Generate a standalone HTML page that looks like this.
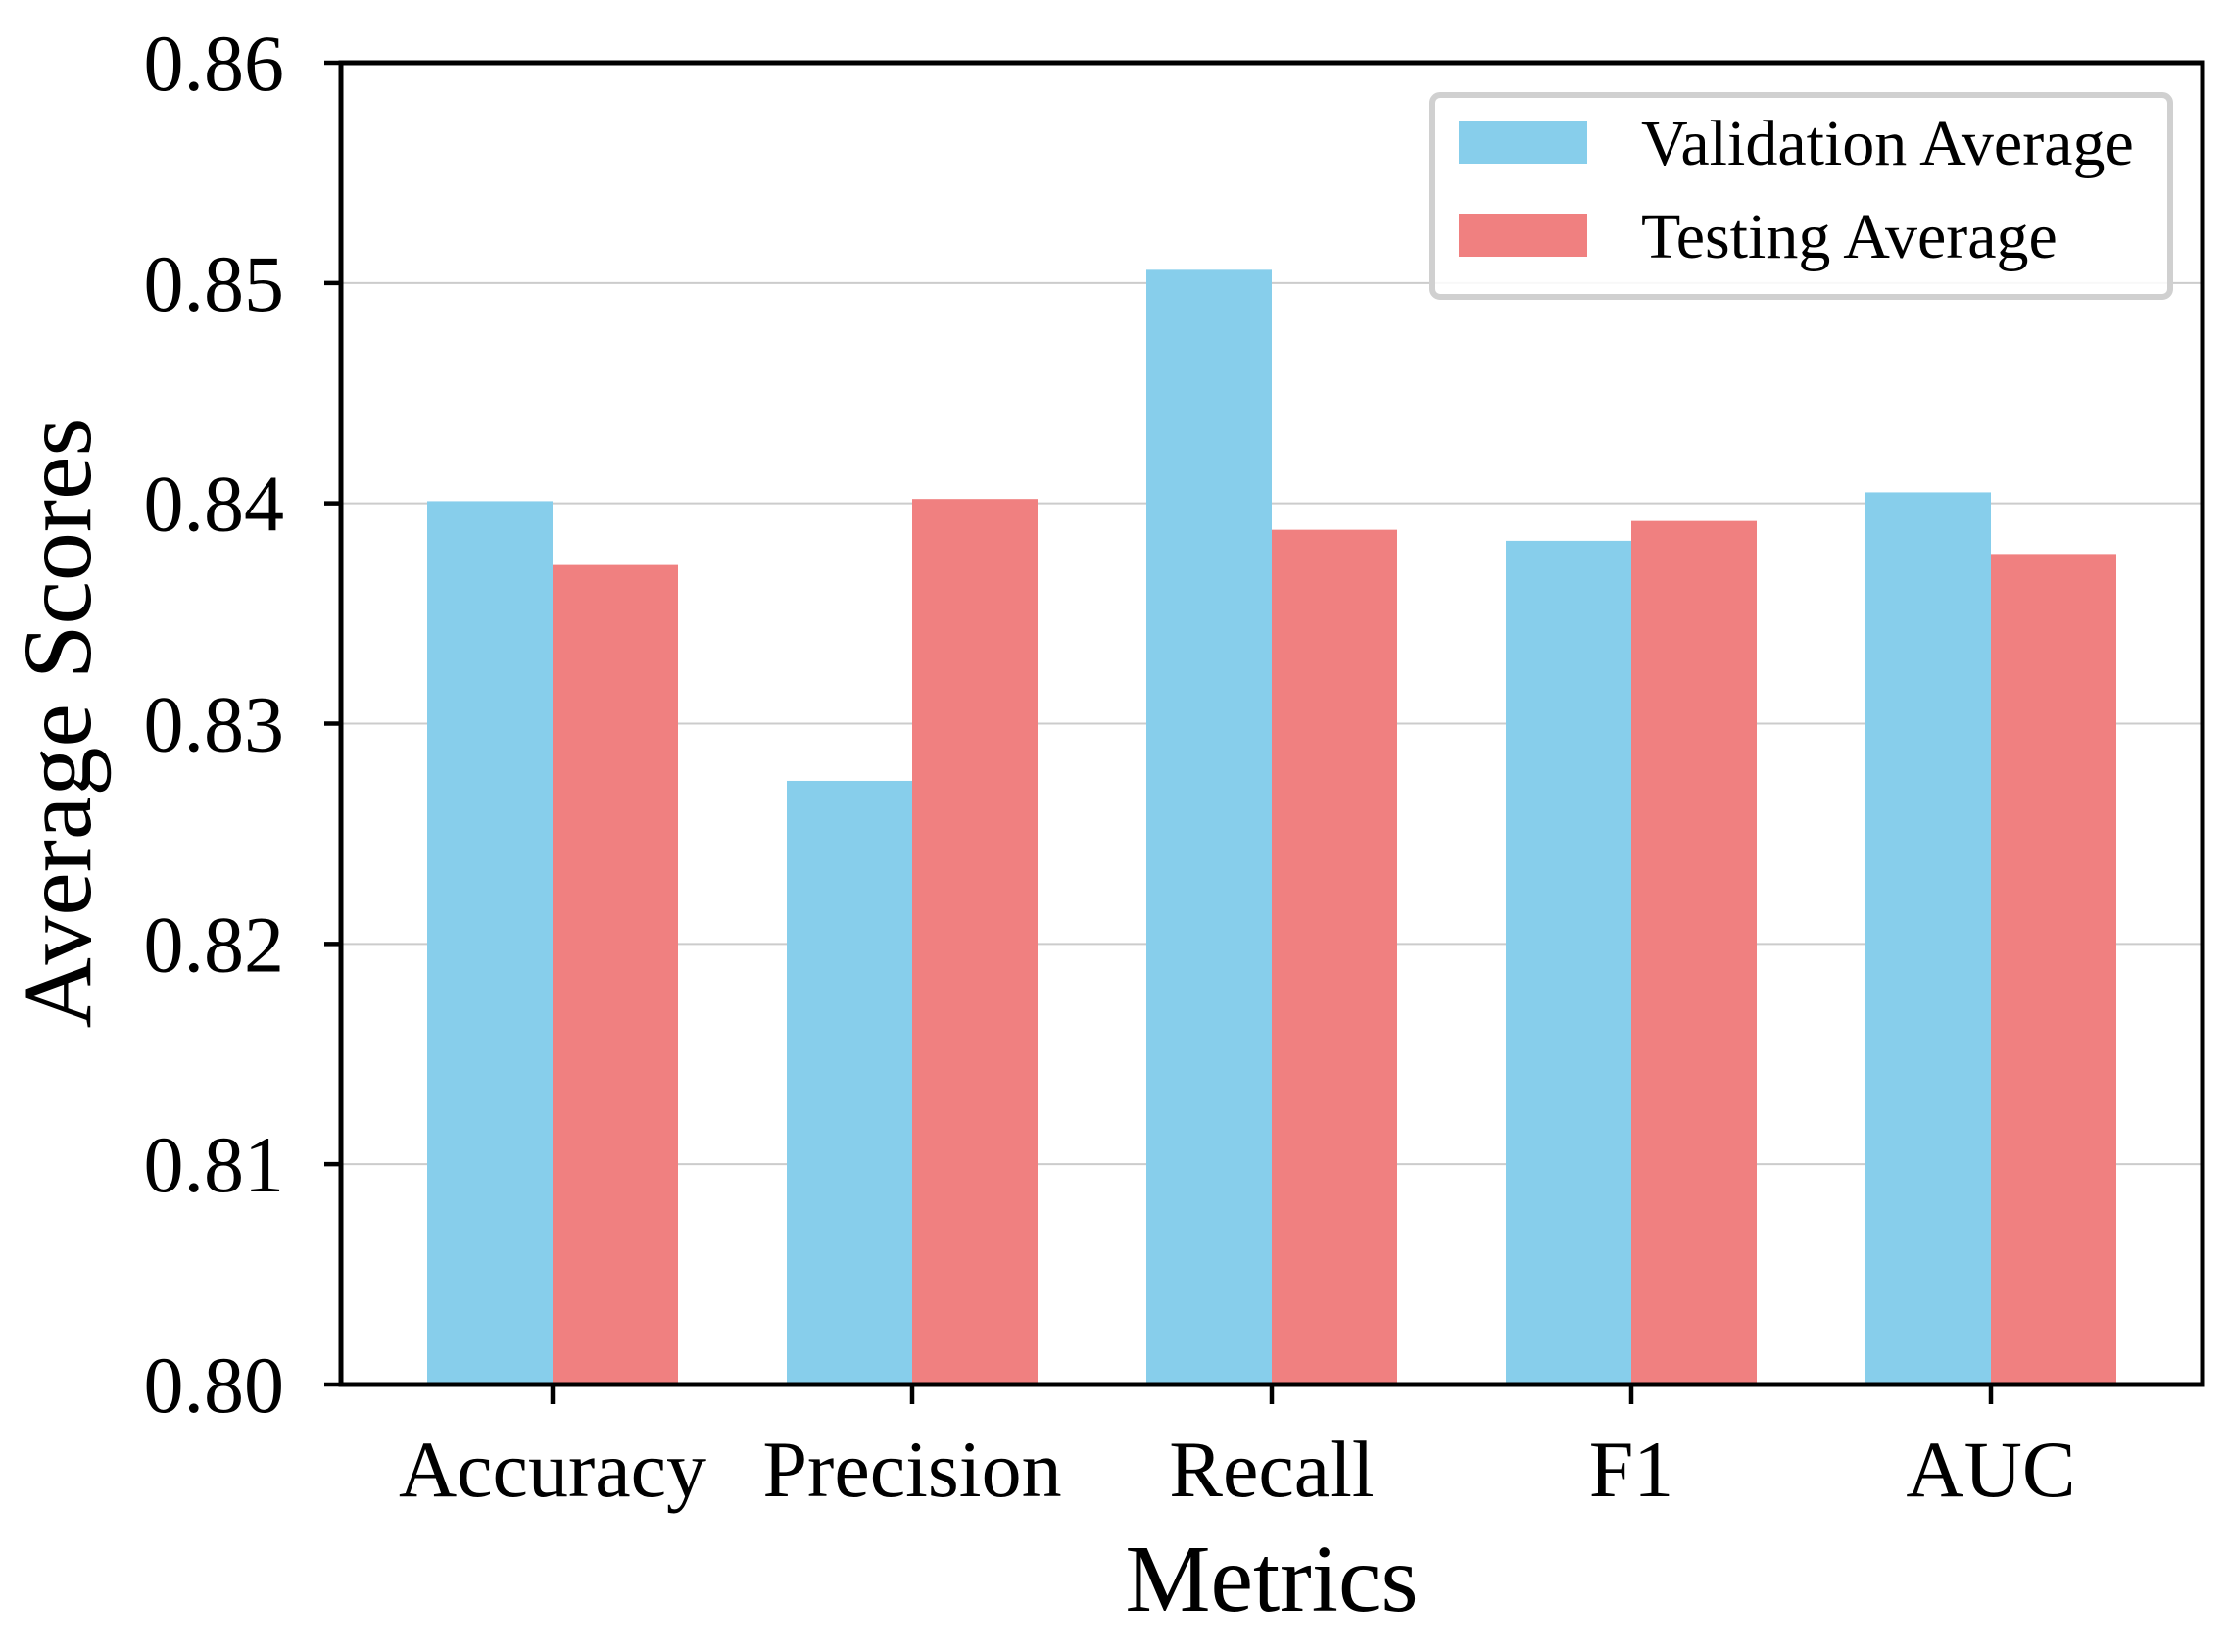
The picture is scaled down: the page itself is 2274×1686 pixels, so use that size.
<!DOCTYPE html>
<html><head><meta charset="utf-8"><style>
html,body{margin:0;padding:0;background:#fff;}
svg{display:block;font-family:"Liberation Serif",serif;}
</style></head><body>
<svg id="chart" width="2274" height="1686" viewBox="0 0 2274 1686">
<g id="grid"></g>
<g id="bars"></g>
<g id="axes"></g>
<text x="1298" y="1644" font-size="98" text-anchor="middle">Metrics</text>
<text transform="translate(92,738) rotate(-90)" font-size="100" text-anchor="middle">Average Scores</text>
<g>
<rect x="1462" y="97" width="753" height="206" rx="8" fill="#fff" fill-opacity="0.85" stroke="#d0d0d0" stroke-width="6"/>
<rect x="1489" y="123" width="131" height="44" fill="#87ceeb"/>
<text x="1675" y="168" font-size="66">Validation Average</text>
<rect x="1489" y="218" width="131" height="44" fill="#f08080"/>
<text x="1675" y="263" font-size="66">Testing Average</text>
</g>
</svg>
<script>
const categories = ["Accuracy","Precision","Recall","F1","AUC"];
const validation = [0.8401,0.8274,0.8506,0.8383,0.8405];
const testing = [0.8372,0.8402,0.8388,0.8392,0.8377];
const yTicks = ["0.80","0.81","0.82","0.83","0.84","0.85","0.86"];
const NS="http://www.w3.org/2000/svg";
const L=348,R=2248,T=64,B=1413,yMin=0.80,yMax=0.86;
const y=v=>B-(v-yMin)/(yMax-yMin)*(B-T);
const step=367,first=564,bw=128;
const xc=i=>first+i*step;
function mk(tag,attrs,parent){const e=document.createElementNS(NS,tag);for(const k in attrs)e.setAttribute(k,attrs[k]);parent.appendChild(e);return e;}
const grid=document.getElementById('grid'),bars=document.getElementById('bars'),axes=document.getElementById('axes');
yTicks.forEach(t=>{const v=parseFloat(t),yy=y(v);
 if(v>yMin&&v<yMax){const g=mk('line',{x1:L,x2:R,y1:yy,y2:yy,stroke:'#cccccc','stroke-width':2},grid);
 
 }
 const tk=mk('line',{x1:L-17,x2:L,y1:yy,y2:yy,stroke:'#000','stroke-width':4.5},axes);
 
 
 const tx=mk('text',{x:L-58,y:yy+28,'font-size':82,'text-anchor':'end'},axes);tx.textContent=t;
 
 
});
categories.forEach((c,i)=>{
 const v=mk('rect',{x:xc(i)-bw,y:y(validation[i]),width:bw,height:B-y(validation[i]),fill:'#87ceeb'},bars);
 
 
 const t=mk('rect',{x:xc(i),y:y(testing[i]),width:bw,height:B-y(testing[i]),fill:'#f08080'},bars);
 
 
 const tk=mk('line',{x1:xc(i),x2:xc(i),y1:B,y2:B+20,stroke:'#000','stroke-width':4.5},axes);
 
 
 const tx=mk('text',{x:xc(i),y:1527,'font-size':82,'text-anchor':'middle'},axes);tx.textContent=c;
 
 
});
const fr=mk('rect',{x:L,y:T,width:R-L,height:B-T,fill:'none',stroke:'#000','stroke-width':5},axes);


</script>
</body></html>
